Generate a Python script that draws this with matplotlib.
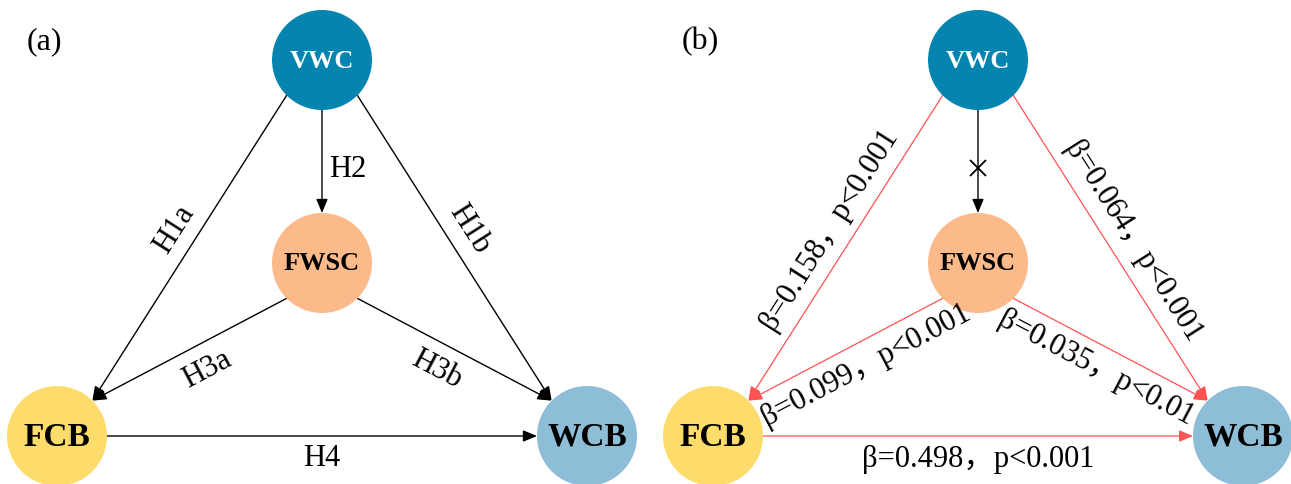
import numpy as np
import matplotlib
matplotlib.use("Agg")
import matplotlib.pyplot as plt
from matplotlib.patches import Circle

plt.rcParams['font.family'] = ['Liberation Serif', 'Noto Sans CJK SC']

# Variables in the path model
nodes = ['VWC', 'FWSC', 'FCB', 'WCB']
node_colors = ['#0584b0', '#fcba8b', '#fddc6c', '#8ebed7']
text_colors = ['white', 'black', 'black', 'black']
text_sizes = [19, 19, 24, 24]

# Hypothesised paths and the fitted coefficients
edges = [('VWC', 'FCB'), ('VWC', 'WCB'), ('VWC', 'FWSC'),
         ('FWSC', 'FCB'), ('FWSC', 'WCB'), ('FCB', 'WCB')]
hypotheses = ['H1a', 'H1b', 'H2', 'H3a', 'H3b', 'H4']
beta = [0.158, 0.064, None, 0.099, 0.035, 0.498]
p_level = ['0.001', '0.001', None, '0.001', '0.01', '0.001']
significant = [True, True, False, True, True, True]

# layout (pixels, y down) for panel (a); panel (b) is shifted right
pos = {'VWC': (322, 60), 'FWSC': (322, 263), 'FCB': (57, 436), 'WCB': (587, 436)}
panel_shift = 656
radius = 50
ports = [('sw', 'ne'), ('se', 'nw'), ('s', 'n'), ('sw', 'ne'), ('se', 'nw'), ('e', 'w')]
label_side = [1, -1, -1, -1, 1, 1]
# where the edge labels sit: fraction along the edge and distance from it
hyp_frac = [0.48, 0.48, 0.58, 0.47, 0.47, 0.5]
hyp_gap = [23, 23, 26, 26, 26, 23]
coef_frac = [0.48, 0.52, None, 0.45, 0.48, 0.5]
coef_gap = [24, 22, None, 23, 24, 23]

d = np.sqrt(0.5)
compass = {'n': (0, -1), 's': (0, 1), 'e': (1, 0), 'w': (-1, 0),
           'ne': (d, -d), 'nw': (-d, -d), 'se': (d, d), 'sw': (-d, d)}

red = '#ff5252'


def port(name, direction, dx):
    cx, cy = pos[name]
    ux, uy = compass[direction]
    return np.array([cx + dx + radius * ux, cy + radius * uy])


fig = plt.figure(figsize=(12.91, 4.84), dpi=100)
ax = fig.add_axes([0, 0, 1, 1])
ax.set_xlim(0, 1291)
ax.set_ylim(484, 0)
ax.axis('off')

for panel, dx in enumerate([0, panel_shift]):
    ax.text(44 + dx, 42, '(a)' if panel == 0 else '(b)', fontsize=23,
            ha='center', va='center')

    for name, col, tcol, ts in zip(nodes, node_colors, text_colors, text_sizes):
        cx, cy = pos[name]
        ax.add_patch(Circle((cx + dx, cy), radius, facecolor=col, edgecolor='none', zorder=2))
        ax.text(cx + dx, cy + 1, name, fontsize=ts, fontweight='bold', color=tcol,
                ha='center', va='center', zorder=3)

    for i, (src, tgt) in enumerate(edges):
        a = port(src, ports[i][0], dx)
        b = port(tgt, ports[i][1], dx)
        color = red if (panel == 1 and significant[i]) else 'black'
        lw = 0.9 if color == red else 1.0
        ax.annotate('', xy=b, xytext=a,
                    arrowprops=dict(arrowstyle='-|>,head_length=0.6,head_width=0.25',
                                    color=color, lw=lw, shrinkA=0, shrinkB=0,
                                    mutation_scale=14), zorder=1)

        vec = b - a
        length = np.hypot(*vec)
        normal = np.array([-vec[1], vec[0]]) / length
        ang = np.degrees(np.arctan2(-vec[1], vec[0]))
        if ang > 90:
            ang -= 180
        elif ang < -90:
            ang += 180
        if abs(abs(ang) - 90) < 1e-6:
            ang = 0  # labels on vertical edges stay upright

        if panel == 0:
            label, frac, gap = hypotheses[i], hyp_frac[i], hyp_gap[i]
        elif significant[i]:
            label = f'β={beta[i]:.3f}，p<{p_level[i]}'
            frac, gap = coef_frac[i], coef_gap[i]
        else:
            # non-significant path marked with a cross
            mx, my = a + 0.56 * vec
            ax.plot(mx, my, marker='x', color='black', markersize=11, mew=1.3, zorder=3)
            continue

        lx, ly = a + frac * vec + label_side[i] * gap * normal
        ax.text(lx, ly, label, fontsize=22, rotation=ang, rotation_mode='anchor',
                ha='center', va='center', zorder=3)

fig.savefig('out.png', dpi=100)
